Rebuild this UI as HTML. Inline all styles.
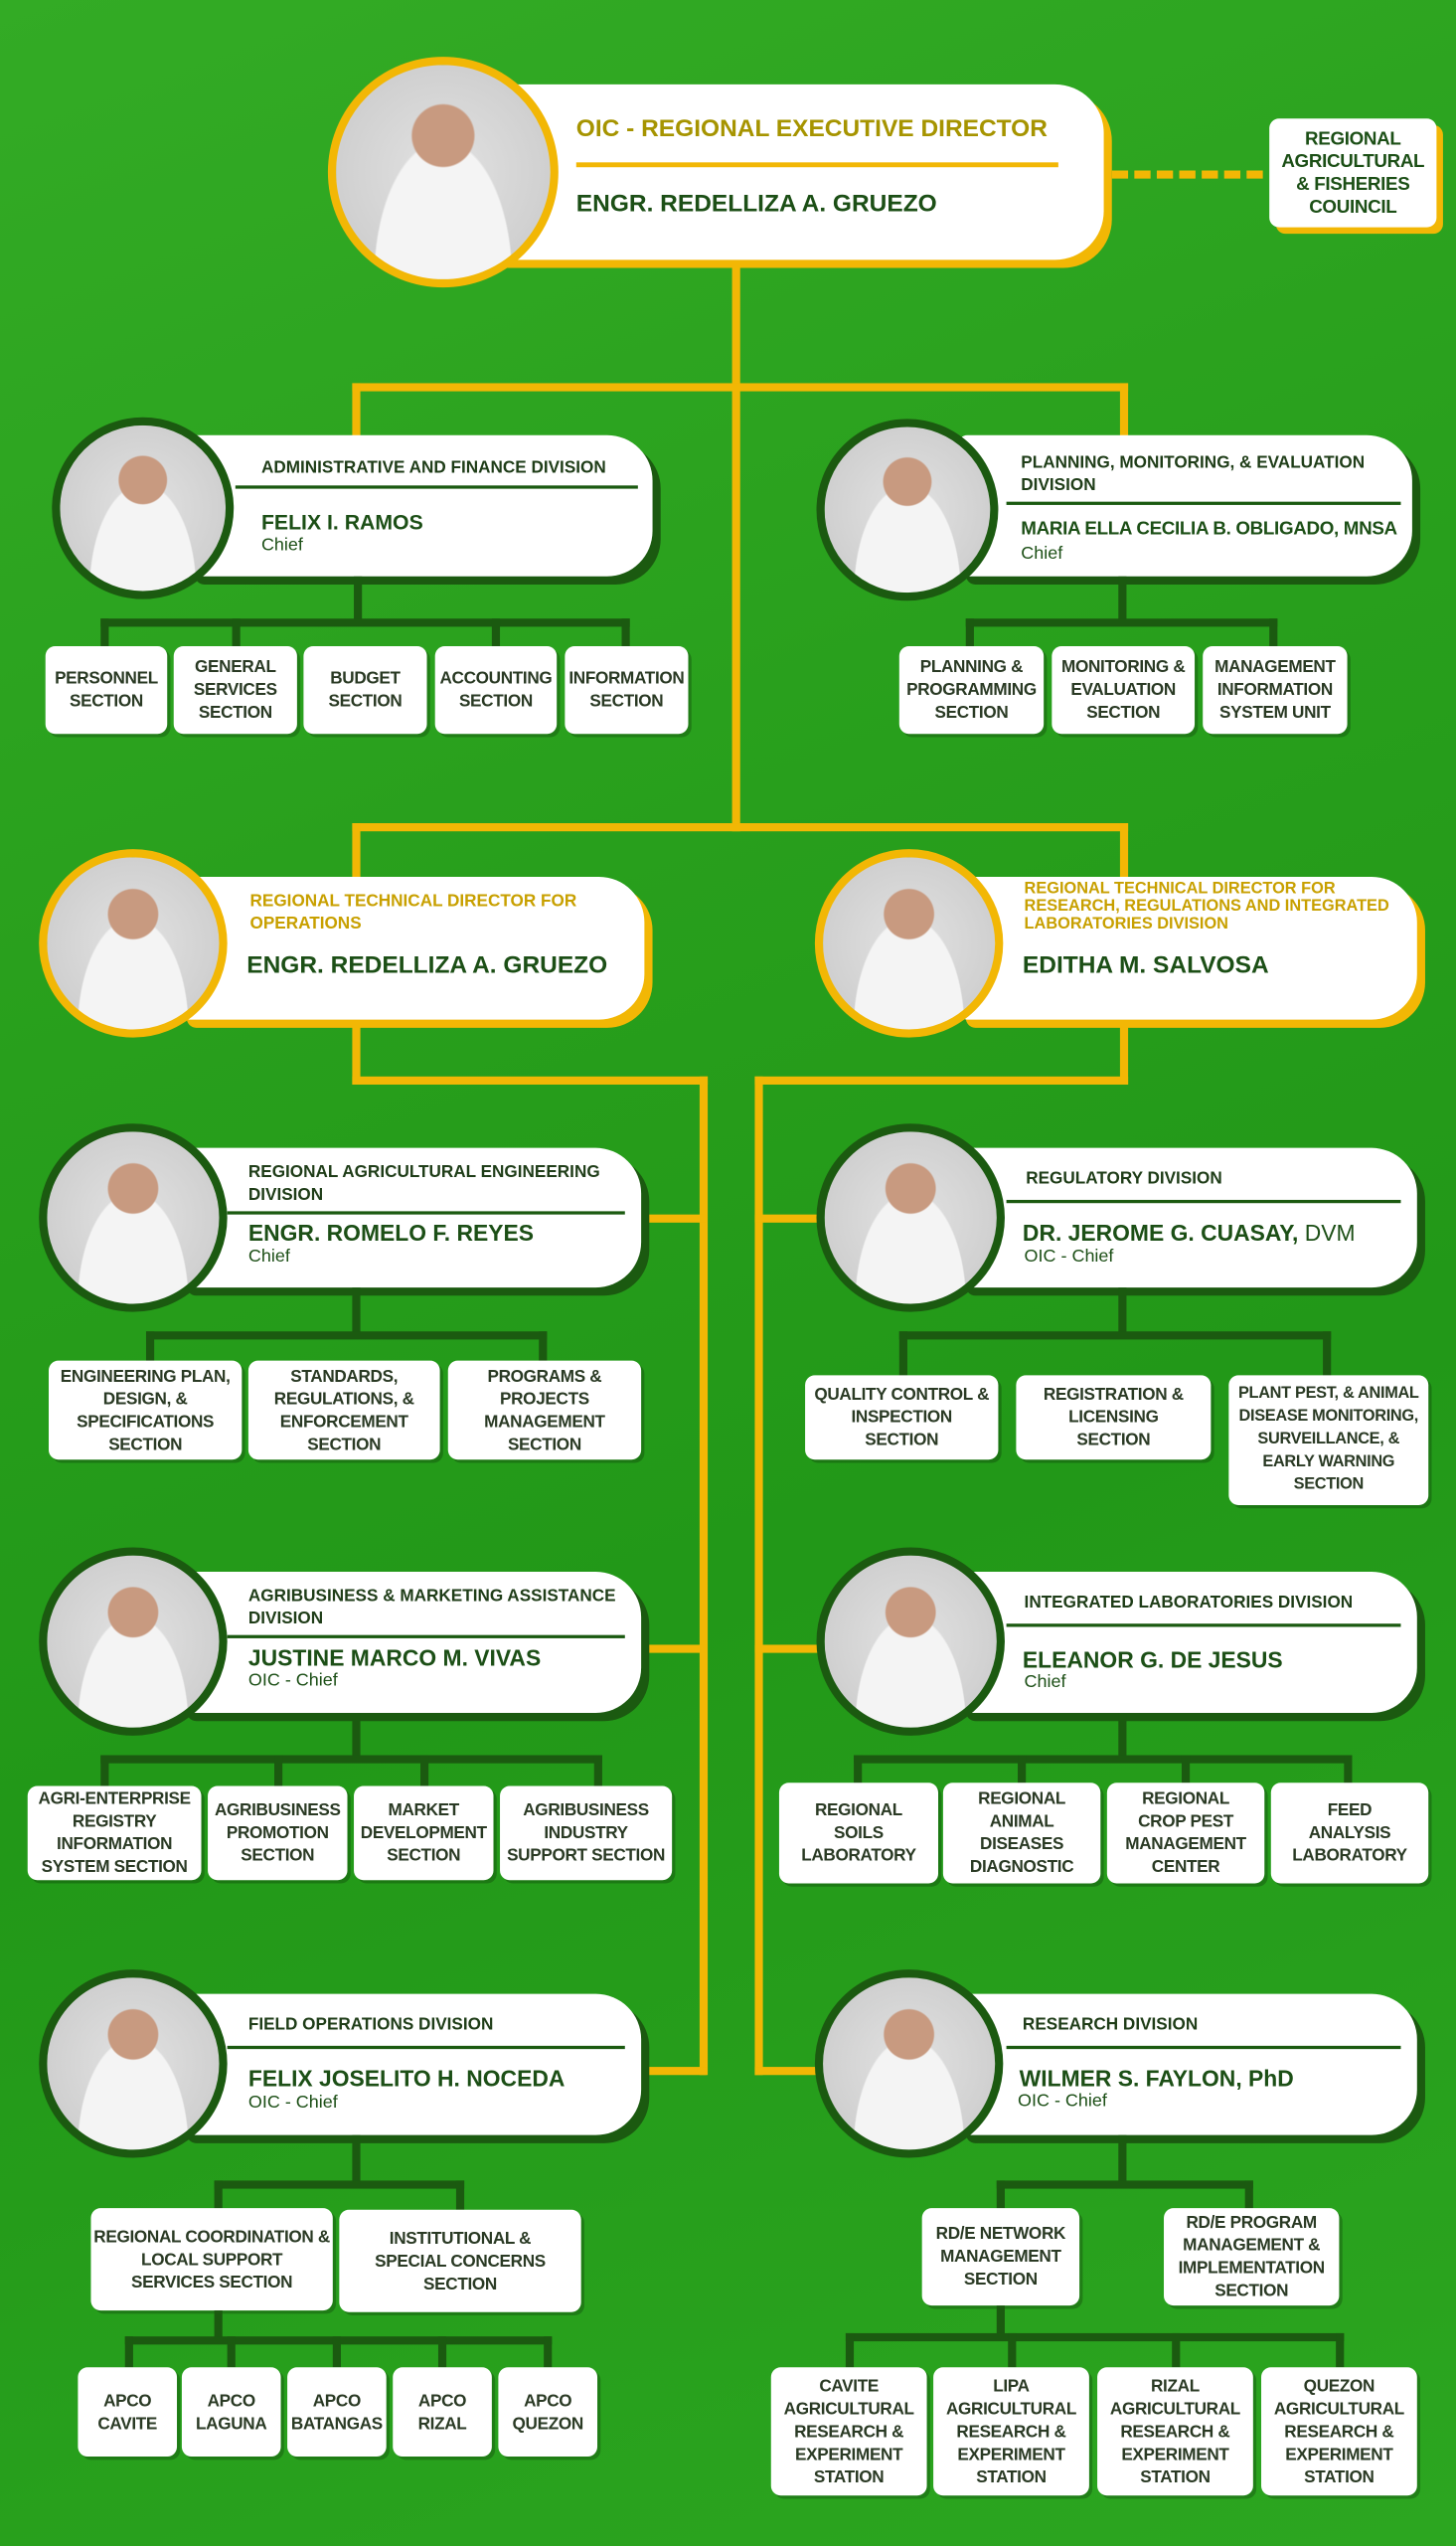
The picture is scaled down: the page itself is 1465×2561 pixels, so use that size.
<!DOCTYPE html>
<html><head><meta charset="utf-8">
<style>
html,body{margin:0;padding:0;width:1465px;height:2560px;overflow:hidden;background:#2aa11e;}
#w{position:absolute;left:0;top:0;width:897px;height:1568px;transform:scale(1.63322);transform-origin:0 0;
background:linear-gradient(160deg,#33ab25 0%,#289f1c 35%,#229818 60%,#2ca620 100%);font-family:"Liberation Sans",sans-serif;overflow:hidden}
.a{position:absolute}
.y{position:absolute;background:#f2b705}
.g{position:absolute;background:#1b5a10}
.s{position:absolute;background:#fff;border-radius:6px;box-shadow:2px 2px 0 rgba(0,0,0,.22);display:flex;align-items:center;justify-content:center;text-align:center;color:#2a3a24;font-weight:bold;font-size:10.5px;line-height:14px;letter-spacing:-.2px}
.card{position:absolute;background:#fff;border-radius:6px 28px 28px 6px;box-shadow:5px 5px 0 #1b5a10}
.cy{box-shadow:5px 5px 0 #f2b705}
.ph{position:absolute;border-radius:50%;border:5px solid #1b5a10;background:radial-gradient(circle at 50% 33%,#c89a80 0 17%,transparent 18%),radial-gradient(ellipse at 50% 100%,#f4f4f4 0 45%,transparent 46%),radial-gradient(circle,#e2e2e2,#c8c8c8);box-sizing:border-box}
.phy{border-color:#f2b705}
.t{position:absolute;font-size:10.5px;font-weight:bold;color:#1f3d18;line-height:14px}
.ln{position:absolute;height:2px;background:#1b5a10}
.n{position:absolute;font-size:14px;font-weight:bold;color:#1c4f16}
.c{position:absolute;font-size:11px;color:#1c4f16}
.ty{color:#c8a000}
</style></head><body><div id="w">

<div class="y" style="left:451px;top:160px;width:5px;height:352px"></div>
<div class="y" style="left:217px;top:236px;width:478px;height:5px"></div>
<div class="y" style="left:217px;top:236px;width:5px;height:34px"></div>
<div class="y" style="left:690px;top:236px;width:5px;height:34px"></div>
<div class="y" style="left:217px;top:507px;width:478px;height:5px"></div>
<div class="y" style="left:217px;top:507px;width:5px;height:35px"></div>
<div class="y" style="left:690px;top:507px;width:5px;height:35px"></div>
<div class="y" style="left:217px;top:628px;width:5px;height:40px"></div>
<div class="y" style="left:217px;top:663px;width:219px;height:5px"></div>
<div class="y" style="left:431px;top:663px;width:5px;height:615px"></div>
<div class="y" style="left:690px;top:628px;width:5px;height:40px"></div>
<div class="y" style="left:465px;top:663px;width:230px;height:5px"></div>
<div class="y" style="left:465px;top:663px;width:5px;height:615px"></div>
<div class="y" style="left:395px;top:748px;width:40px;height:5px"></div>
<div class="y" style="left:395px;top:1013px;width:40px;height:5px"></div>
<div class="y" style="left:395px;top:1273px;width:40px;height:5px"></div>
<div class="y" style="left:465px;top:748px;width:40px;height:5px"></div>
<div class="y" style="left:465px;top:1013px;width:40px;height:5px"></div>
<div class="y" style="left:465px;top:1273px;width:40px;height:5px"></div>
<div class="a" style="left:685px;top:105px;width:93px;height:0;border-top:5px dashed #f2b705"></div>

<div class="card cy" style="left:300px;top:52px;width:380px;height:108px;border-radius:8px 30px 30px 8px"></div>
<div class="ph phy" style="left:202px;top:35px;width:142px;height:142px"></div>
<div class="a" style="left:355px;top:71px;font-size:15px;font-weight:bold;color:#a69400">OIC - REGIONAL EXECUTIVE DIRECTOR</div>
<div class="y" style="left:355px;top:100px;width:297px;height:3px"></div>
<div class="a" style="left:355px;top:117px;font-size:15px;font-weight:bold;color:#1c4f16">ENGR. REDELLIZA A. GRUEZO</div>
<div class="s" style="left:782px;top:73px;width:103px;height:67px;box-shadow:4px 4px 0 #f2b705;font-size:11.5px;color:#1c4f16">REGIONAL<br>AGRICULTURAL<br>&amp; FISHERIES<br>COUINCIL</div>

<div class="card" style="left:115px;top:268px;width:287px;height:87px"></div>
<div class="ph" style="left:32px;top:257px;width:112px;height:112px"></div>
<div class="t" style="left:161px;top:281px">ADMINISTRATIVE AND FINANCE DIVISION</div>
<div class="ln" style="left:145px;top:299px;width:248px"></div>
<div class="n" style="left:161px;top:314px;font-size:13px">FELIX I. RAMOS</div>
<div class="c" style="left:161px;top:330px">Chief</div>
<div class="g" style="left:218px;top:355px;width:5px;height:30px"></div>
<div class="g" style="left:62px;top:381px;width:326px;height:5px"></div>
<div class="g" style="left:62px;top:381px;width:5px;height:18px"></div><div class="g" style="left:143px;top:381px;width:5px;height:18px"></div><div class="g" style="left:303px;top:381px;width:5px;height:18px"></div><div class="g" style="left:383px;top:381px;width:5px;height:18px"></div>
<div class="s" style="left:28px;top:398px;width:75px;height:54px">PERSONNEL<br>SECTION</div>
<div class="s" style="left:107px;top:398px;width:76px;height:54px">GENERAL<br>SERVICES<br>SECTION</div>
<div class="s" style="left:187px;top:398px;width:76px;height:54px">BUDGET<br>SECTION</div>
<div class="s" style="left:268px;top:398px;width:75px;height:54px">ACCOUNTING<br>SECTION</div>
<div class="s" style="left:348px;top:398px;width:76px;height:54px">INFORMATION<br>SECTION</div>

<div class="card" style="left:590px;top:268px;width:280px;height:87px"></div>
<div class="ph" style="left:503px;top:258px;width:112px;height:112px"></div>
<div class="t" style="left:629px;top:278px">PLANNING, MONITORING, &amp; EVALUATION<br>DIVISION</div>
<div class="ln" style="left:620px;top:309px;width:243px"></div>
<div class="n" style="left:629px;top:320px;font-size:11.5px;letter-spacing:-.2px">MARIA ELLA CECILIA B. OBLIGADO, MNSA</div>
<div class="c" style="left:629px;top:335px">Chief</div>
<div class="g" style="left:689px;top:355px;width:5px;height:30px"></div>
<div class="g" style="left:595px;top:381px;width:192px;height:5px"></div>
<div class="g" style="left:595px;top:381px;width:5px;height:18px"></div><div class="g" style="left:782px;top:381px;width:5px;height:18px"></div>
<div class="s" style="left:554px;top:398px;width:89px;height:54px">PLANNING &amp;<br>PROGRAMMING<br>SECTION</div>
<div class="s" style="left:648px;top:398px;width:88px;height:54px">MONITORING &amp;<br>EVALUATION<br>SECTION</div>
<div class="s" style="left:741px;top:398px;width:89px;height:54px">MANAGEMENT<br>INFORMATION<br>SYSTEM UNIT</div>

<div class="card cy" style="left:110px;top:540px;width:287px;height:88px"></div>
<div class="ph phy" style="left:24px;top:523px;width:116px;height:116px"></div>
<div class="t ty" style="left:154px;top:548px">REGIONAL TECHNICAL DIRECTOR FOR<br>OPERATIONS</div>
<div class="n" style="left:152px;top:586px;font-size:15px">ENGR. REDELLIZA A. GRUEZO</div>
<div class="card cy" style="left:590px;top:540px;width:283px;height:88px"></div>
<div class="ph phy" style="left:502px;top:523px;width:116px;height:116px"></div>
<div class="t ty" style="left:631px;top:542px;font-size:10px;line-height:11px">REGIONAL TECHNICAL DIRECTOR FOR<br>RESEARCH, REGULATIONS AND INTEGRATED<br>LABORATORIES DIVISION</div>
<div class="n" style="left:630px;top:586px;font-size:15px">EDITHA M. SALVOSA</div>

<div class="card" style="left:110px;top:707px;width:285px;height:86px"></div>
<div class="ph" style="left:24px;top:692px;width:116px;height:116px"></div>
<div class="t" style="left:153px;top:715px">REGIONAL AGRICULTURAL ENGINEERING<br>DIVISION</div>
<div class="ln" style="left:140px;top:746px;width:245px"></div>
<div class="n" style="left:153px;top:751px">ENGR. ROMELO F. REYES</div>
<div class="c" style="left:153px;top:768px">Chief</div>
<div class="g" style="left:217px;top:793px;width:5px;height:31px"></div>
<div class="g" style="left:90px;top:820px;width:247px;height:5px"></div>
<div class="g" style="left:90px;top:820px;width:5px;height:19px"></div><div class="g" style="left:332px;top:820px;width:5px;height:19px"></div>
<div class="s" style="left:30px;top:838px;width:119px;height:61px">ENGINEERING PLAN,<br>DESIGN, &amp;<br>SPECIFICATIONS<br>SECTION</div>
<div class="s" style="left:153px;top:838px;width:118px;height:61px">STANDARDS,<br>REGULATIONS, &amp;<br>ENFORCEMENT<br>SECTION</div>
<div class="s" style="left:276px;top:838px;width:119px;height:61px">PROGRAMS &amp;<br>PROJECTS<br>MANAGEMENT<br>SECTION</div>

<div class="card" style="left:590px;top:707px;width:283px;height:86px"></div>
<div class="ph" style="left:503px;top:692px;width:116px;height:116px"></div>
<div class="t" style="left:632px;top:719px">REGULATORY DIVISION</div>
<div class="ln" style="left:620px;top:739px;width:243px"></div>
<div class="n" style="left:630px;top:751px">DR. JEROME G. CUASAY, <span style="font-weight:normal">DVM</span></div>
<div class="c" style="left:631px;top:768px">OIC - Chief</div>
<div class="g" style="left:689px;top:793px;width:5px;height:31px"></div>
<div class="g" style="left:554px;top:820px;width:266px;height:5px"></div>
<div class="g" style="left:554px;top:820px;width:5px;height:28px"></div><div class="g" style="left:815px;top:820px;width:5px;height:28px"></div>
<div class="s" style="left:496px;top:847px;width:119px;height:52px">QUALITY CONTROL &amp;<br>INSPECTION<br>SECTION</div>
<div class="s" style="left:626px;top:847px;width:120px;height:52px">REGISTRATION &amp;<br>LICENSING<br>SECTION</div>
<div class="s" style="left:757px;top:847px;width:123px;height:80px;font-size:10px">PLANT PEST, &amp; ANIMAL<br>DISEASE MONITORING,<br>SURVEILLANCE, &amp;<br>EARLY WARNING<br>SECTION</div>

<div class="card" style="left:110px;top:968px;width:285px;height:87px"></div>
<div class="ph" style="left:24px;top:953px;width:116px;height:116px"></div>
<div class="t" style="left:153px;top:976px">AGRIBUSINESS &amp; MARKETING ASSISTANCE<br>DIVISION</div>
<div class="ln" style="left:140px;top:1007px;width:245px"></div>
<div class="n" style="left:153px;top:1013px">JUSTINE MARCO M. VIVAS</div>
<div class="c" style="left:153px;top:1029px">OIC - Chief</div>
<div class="g" style="left:217px;top:1055px;width:5px;height:30px"></div>
<div class="g" style="left:62px;top:1081px;width:309px;height:5px"></div>
<div class="g" style="left:62px;top:1081px;width:5px;height:19px"></div><div class="g" style="left:169px;top:1081px;width:5px;height:19px"></div><div class="g" style="left:259px;top:1081px;width:5px;height:19px"></div><div class="g" style="left:366px;top:1081px;width:5px;height:19px"></div>
<div class="s" style="left:17px;top:1100px;width:107px;height:58px">AGRI-ENTERPRISE<br>REGISTRY<br>INFORMATION<br>SYSTEM SECTION</div>
<div class="s" style="left:128px;top:1100px;width:86px;height:58px">AGRIBUSINESS<br>PROMOTION<br>SECTION</div>
<div class="s" style="left:218px;top:1100px;width:86px;height:58px">MARKET<br>DEVELOPMENT<br>SECTION</div>
<div class="s" style="left:308px;top:1100px;width:106px;height:58px">AGRIBUSINESS<br>INDUSTRY<br>SUPPORT SECTION</div>

<div class="card" style="left:590px;top:968px;width:283px;height:87px"></div>
<div class="ph" style="left:503px;top:953px;width:116px;height:116px"></div>
<div class="t" style="left:631px;top:980px">INTEGRATED LABORATORIES DIVISION</div>
<div class="ln" style="left:620px;top:1000px;width:243px"></div>
<div class="n" style="left:630px;top:1014px">ELEANOR G. DE JESUS</div>
<div class="c" style="left:631px;top:1030px">Chief</div>
<div class="g" style="left:689px;top:1055px;width:5px;height:30px"></div>
<div class="g" style="left:526px;top:1081px;width:307px;height:5px"></div>
<div class="g" style="left:526px;top:1081px;width:5px;height:18px"></div><div class="g" style="left:627px;top:1081px;width:5px;height:18px"></div><div class="g" style="left:728px;top:1081px;width:5px;height:18px"></div><div class="g" style="left:828px;top:1081px;width:5px;height:18px"></div>
<div class="s" style="left:480px;top:1098px;width:98px;height:62px">REGIONAL<br>SOILS<br>LABORATORY</div>
<div class="s" style="left:581px;top:1098px;width:97px;height:62px">REGIONAL<br>ANIMAL<br>DISEASES<br>DIAGNOSTIC</div>
<div class="s" style="left:682px;top:1098px;width:97px;height:62px">REGIONAL<br>CROP PEST<br>MANAGEMENT<br>CENTER</div>
<div class="s" style="left:783px;top:1098px;width:97px;height:62px">FEED<br>ANALYSIS<br>LABORATORY</div>

<div class="card" style="left:110px;top:1228px;width:285px;height:87px"></div>
<div class="ph" style="left:24px;top:1213px;width:116px;height:116px"></div>
<div class="t" style="left:153px;top:1240px">FIELD OPERATIONS DIVISION</div>
<div class="ln" style="left:140px;top:1260px;width:245px"></div>
<div class="n" style="left:153px;top:1272px">FELIX JOSELITO H. NOCEDA</div>
<div class="c" style="left:153px;top:1289px">OIC - Chief</div>
<div class="g" style="left:217px;top:1315px;width:5px;height:32px"></div>
<div class="g" style="left:132px;top:1343px;width:154px;height:5px"></div>
<div class="g" style="left:132px;top:1343px;width:5px;height:18px"></div><div class="g" style="left:281px;top:1343px;width:5px;height:18px"></div>
<div class="s" style="left:56px;top:1360px;width:149px;height:63px">REGIONAL COORDINATION &amp;<br>LOCAL SUPPORT<br>SERVICES SECTION</div>
<div class="s" style="left:209px;top:1361px;width:149px;height:63px">INSTITUTIONAL &amp;<br>SPECIAL CONCERNS<br>SECTION</div>
<div class="g" style="left:132px;top:1423px;width:5px;height:20px"></div>
<div class="g" style="left:77px;top:1439px;width:263px;height:5px"></div>
<div class="g" style="left:77px;top:1439px;width:5px;height:19px"></div><div class="g" style="left:140px;top:1439px;width:5px;height:19px"></div><div class="g" style="left:205px;top:1439px;width:5px;height:19px"></div><div class="g" style="left:270px;top:1439px;width:5px;height:19px"></div><div class="g" style="left:335px;top:1439px;width:5px;height:19px"></div>
<div class="s" style="left:48px;top:1458px;width:61px;height:55px">APCO<br>CAVITE</div>
<div class="s" style="left:112px;top:1458px;width:61px;height:55px">APCO<br>LAGUNA</div>
<div class="s" style="left:177px;top:1458px;width:61px;height:55px">APCO<br>BATANGAS</div>
<div class="s" style="left:242px;top:1458px;width:61px;height:55px">APCO<br>RIZAL</div>
<div class="s" style="left:307px;top:1458px;width:61px;height:55px">APCO<br>QUEZON</div>

<div class="card" style="left:590px;top:1228px;width:283px;height:87px"></div>
<div class="ph" style="left:502px;top:1213px;width:116px;height:116px"></div>
<div class="t" style="left:630px;top:1240px">RESEARCH DIVISION</div>
<div class="ln" style="left:620px;top:1260px;width:243px"></div>
<div class="n" style="left:628px;top:1272px">WILMER S. FAYLON, PhD</div>
<div class="c" style="left:627px;top:1288px">OIC - Chief</div>
<div class="g" style="left:689px;top:1315px;width:5px;height:32px"></div>
<div class="g" style="left:614px;top:1343px;width:158px;height:5px"></div>
<div class="g" style="left:614px;top:1343px;width:5px;height:18px"></div><div class="g" style="left:767px;top:1343px;width:5px;height:18px"></div>
<div class="s" style="left:568px;top:1360px;width:97px;height:60px">RD/E NETWORK<br>MANAGEMENT<br>SECTION</div>
<div class="s" style="left:717px;top:1360px;width:108px;height:60px">RD/E PROGRAM<br>MANAGEMENT &amp;<br>IMPLEMENTATION<br>SECTION</div>
<div class="g" style="left:614px;top:1420px;width:5px;height:20px"></div>
<div class="g" style="left:521px;top:1437px;width:307px;height:5px"></div>
<div class="g" style="left:521px;top:1437px;width:5px;height:21px"></div><div class="g" style="left:621px;top:1437px;width:5px;height:21px"></div><div class="g" style="left:722px;top:1437px;width:5px;height:21px"></div><div class="g" style="left:823px;top:1437px;width:5px;height:21px"></div>
<div class="s" style="left:475px;top:1458px;width:96px;height:79px">CAVITE<br>AGRICULTURAL<br>RESEARCH &amp;<br>EXPERIMENT<br>STATION</div>
<div class="s" style="left:575px;top:1458px;width:96px;height:79px">LIPA<br>AGRICULTURAL<br>RESEARCH &amp;<br>EXPERIMENT<br>STATION</div>
<div class="s" style="left:676px;top:1458px;width:96px;height:79px">RIZAL<br>AGRICULTURAL<br>RESEARCH &amp;<br>EXPERIMENT<br>STATION</div>
<div class="s" style="left:777px;top:1458px;width:96px;height:79px">QUEZON<br>AGRICULTURAL<br>RESEARCH &amp;<br>EXPERIMENT<br>STATION</div>

</div></body></html>
